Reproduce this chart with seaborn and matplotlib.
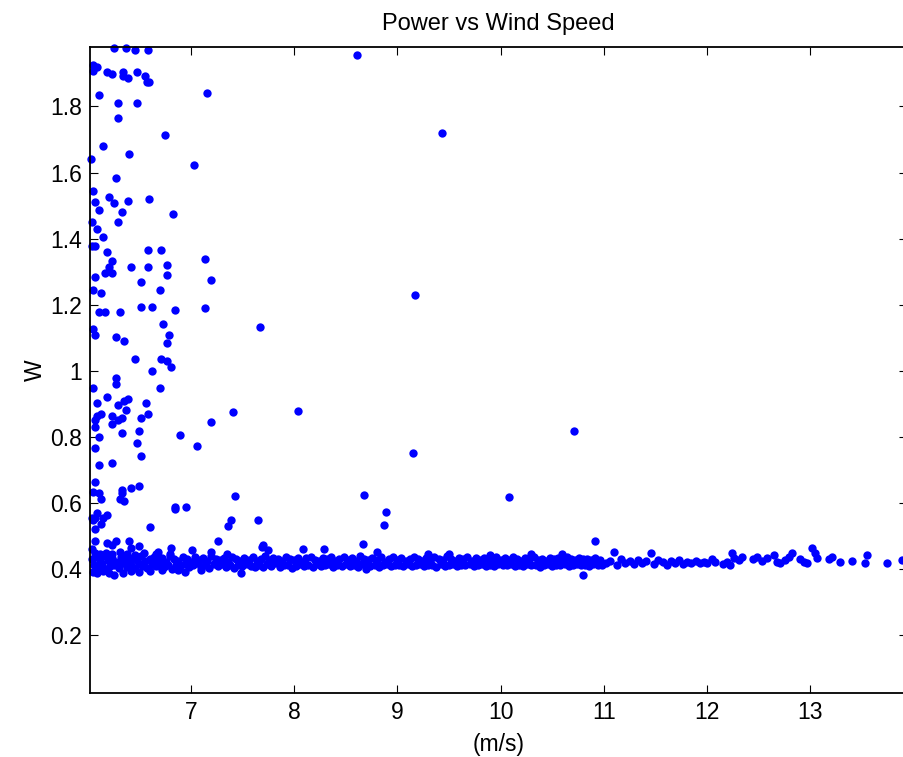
import matplotlib
matplotlib.use("Agg")
import matplotlib.pyplot as plt
import seaborn as sns
import pandas as pd

# scattered points above the main band (wind speed m/s, power W)
outlier_x = [6.257, 6.370, 6.463, 6.589, 6.056, 6.089, 6.056, 6.186, 6.240, 6.347,
             6.347, 6.389, 6.479, 6.554, 6.573, 6.593, 7.155, 6.114, 6.295, 6.479,
             6.295, 6.754, 6.150, 6.405, 6.037, 7.029, 6.279, 6.056, 6.205, 6.075,
             6.259, 6.389, 6.593, 6.114, 6.334, 6.828, 6.295, 6.040, 6.095, 6.150,
             6.040, 6.075, 6.186, 6.589, 6.715, 7.138, 6.240, 6.205, 6.424, 6.589,
             6.773, 6.166, 6.240, 6.075, 6.773, 7.194, 6.515, 6.056, 6.699, 6.131,
             6.515, 6.625, 7.138, 6.845, 6.114, 6.166, 6.315, 6.056, 6.075, 6.734,
             7.668, 6.790, 6.279, 6.351, 6.773, 6.463, 6.715, 6.773, 6.809, 6.625,
             6.279, 6.279, 6.056, 6.699, 6.186, 6.095, 6.295, 6.351, 6.389, 6.570,
             6.370, 6.131, 6.095, 6.075, 6.240, 6.589, 7.413, 6.515, 6.334, 6.295,
             6.240, 7.194, 6.075, 6.499, 6.334, 6.114, 6.899, 6.479, 7.064, 6.075,
             6.515, 6.114, 6.240, 6.075, 6.056, 6.114, 6.131, 6.334, 6.334, 6.315,
             6.351, 6.424, 6.499, 7.429, 6.845, 6.845, 6.954, 6.095, 6.075, 6.056,
             6.186, 6.150, 6.131, 6.075, 6.040, 6.605, 7.358, 7.393, 7.649, 6.075,
             6.186, 6.240, 6.279, 6.405, 6.499, 6.424, 7.264, 7.703, 7.688, 6.809,
             8.611, 9.435, 9.173, 10.714, 9.154, 10.084, 8.679, 8.892, 8.873, 8.670,
             10.917, 8.040]
outlier_y = [1.977, 1.978, 1.971, 1.971, 1.926, 1.920, 1.908, 1.903, 1.897, 1.903,
             1.892, 1.885, 1.903, 1.892, 1.875, 1.875, 1.840, 1.834, 1.811, 1.811,
             1.766, 1.714, 1.680, 1.656, 1.640, 1.623, 1.584, 1.543, 1.527, 1.512,
             1.508, 1.514, 1.520, 1.487, 1.480, 1.475, 1.451, 1.451, 1.428, 1.406,
             1.378, 1.378, 1.360, 1.366, 1.366, 1.338, 1.332, 1.314, 1.314, 1.314,
             1.320, 1.297, 1.297, 1.285, 1.291, 1.275, 1.269, 1.246, 1.246, 1.235,
             1.194, 1.194, 1.190, 1.183, 1.177, 1.177, 1.177, 1.126, 1.109, 1.143,
             1.132, 1.109, 1.104, 1.092, 1.086, 1.035, 1.035, 1.029, 1.013, 1.000,
             0.979, 0.961, 0.949, 0.949, 0.920, 0.903, 0.898, 0.909, 0.914, 0.903,
             0.881, 0.869, 0.864, 0.852, 0.864, 0.869, 0.875, 0.858, 0.858, 0.852,
             0.841, 0.847, 0.830, 0.818, 0.812, 0.800, 0.806, 0.783, 0.772, 0.766,
             0.743, 0.715, 0.721, 0.663, 0.635, 0.630, 0.612, 0.641, 0.630, 0.612,
             0.606, 0.646, 0.652, 0.623, 0.590, 0.584, 0.590, 0.571, 0.555, 0.549,
             0.565, 0.555, 0.537, 0.521, 0.555, 0.527, 0.532, 0.549, 0.549, 0.486,
             0.481, 0.475, 0.486, 0.486, 0.470, 0.464, 0.486, 0.475, 0.469, 0.464,
             1.955, 1.721, 1.230, 0.819, 0.752, 0.619, 0.625, 0.574, 0.534, 0.476,
             0.487, 0.879]

# dense band, upper row
band_a_x = [6.04, 6.08, 6.12, 6.16, 6.20, 6.24, 6.28, 6.32, 6.36, 6.40,
            6.44, 6.48, 6.52, 6.56, 6.60, 6.64, 6.68, 6.72, 6.76, 6.80,
            6.84, 6.88, 6.92, 6.96, 7.00, 7.04, 7.08, 7.12, 7.16, 7.20,
            7.24, 7.28, 7.32, 7.36, 7.40, 7.44, 7.48, 7.52, 7.56, 7.60,
            7.64, 7.68, 7.72, 7.76, 7.80, 7.84, 7.88, 7.92, 7.96, 8.00,
            8.04, 8.08, 8.12, 8.16, 8.20, 8.24, 8.28, 8.32, 8.36, 8.40,
            8.44, 8.48, 8.52, 8.56, 8.60, 8.64, 8.68, 8.72, 8.76, 8.80,
            8.84, 8.88, 8.92, 8.96, 9.00, 9.04, 9.08, 9.12, 9.16, 9.20,
            9.24, 9.28, 9.32, 9.36, 9.40, 9.44, 9.48, 9.52, 9.56, 9.60,
            9.64, 9.68, 9.72, 9.76, 9.80, 9.84, 9.88, 9.92, 9.96, 10.00,
            10.04, 10.08, 10.12, 10.16, 10.20, 10.24, 10.28, 10.32, 10.36, 10.40,
            10.44, 10.48, 10.52, 10.56, 10.60, 10.64, 10.68, 10.72, 10.76, 10.80,
            10.84, 10.88, 10.92, 10.96]
band_a_y = [0.430, 0.436, 0.425, 0.441, 0.428, 0.433, 0.422, 0.438, 0.431, 0.426,
            0.435, 0.429, 0.440, 0.424, 0.432, 0.437, 0.427, 0.434, 0.421, 0.439,
            0.430, 0.426, 0.436, 0.431, 0.423, 0.437, 0.429, 0.434, 0.425, 0.440,
            0.432, 0.428, 0.435, 0.422, 0.438, 0.430, 0.426, 0.433, 0.429, 0.436,
            0.424, 0.431, 0.439, 0.427, 0.434, 0.430, 0.425, 0.437, 0.432, 0.428,
            0.435, 0.421, 0.433, 0.438, 0.429, 0.426, 0.434, 0.431, 0.436, 0.424,
            0.430, 0.437, 0.428, 0.433, 0.425, 0.439, 0.431, 0.427, 0.434, 0.429,
            0.436, 0.423, 0.432, 0.438, 0.428, 0.434, 0.426, 0.431, 0.437, 0.430,
            0.425, 0.433, 0.429, 0.436, 0.431, 0.427, 0.440, 0.432, 0.426, 0.434,
            0.430, 0.437, 0.424, 0.433, 0.428, 0.435, 0.431, 0.426, 0.438, 0.429,
            0.433, 0.427, 0.436, 0.430, 0.425, 0.434, 0.431, 0.437, 0.428, 0.432,
            0.426, 0.435, 0.430, 0.433, 0.428, 0.436, 0.431, 0.427, 0.434, 0.430,
            0.432, 0.429, 0.435, 0.428]

# dense band, lower row
band_b_x = [6.06, 6.10, 6.14, 6.18, 6.22, 6.26, 6.30, 6.34, 6.38, 6.42,
            6.46, 6.50, 6.54, 6.58, 6.62, 6.66, 6.70, 6.74, 6.78, 6.82,
            6.86, 6.90, 6.94, 6.98, 7.02, 7.06, 7.10, 7.14, 7.18, 7.22,
            7.26, 7.30, 7.34, 7.38, 7.42, 7.46, 7.50, 7.54, 7.58, 7.62,
            7.66, 7.70, 7.74, 7.78, 7.82, 7.86, 7.90, 7.94, 7.98, 8.02,
            8.06, 8.10, 8.14, 8.18, 8.22, 8.26, 8.30, 8.34, 8.38, 8.42,
            8.46, 8.50, 8.54, 8.58, 8.62, 8.66, 8.70, 8.74, 8.78, 8.82,
            8.86, 8.90, 8.94, 8.98, 9.02, 9.06, 9.10, 9.14, 9.18, 9.22,
            9.26, 9.30, 9.34, 9.38, 9.42, 9.46, 9.50, 9.54, 9.58, 9.62,
            9.66, 9.70, 9.74, 9.78, 9.82, 9.86, 9.90, 9.94, 9.98, 10.02,
            10.06, 10.10, 10.14, 10.18, 10.22, 10.26, 10.30, 10.34, 10.38, 10.42,
            10.46, 10.50, 10.54, 10.58, 10.62, 10.66, 10.70, 10.74, 10.78, 10.82,
            10.86, 10.90, 10.94, 10.98]
band_b_y = [0.412, 0.406, 0.416, 0.401, 0.410, 0.414, 0.404, 0.418, 0.408, 0.413,
            0.405, 0.417, 0.411, 0.403, 0.415, 0.409, 0.419, 0.407, 0.412, 0.402,
            0.414, 0.410, 0.416, 0.406, 0.412, 0.418, 0.408, 0.413, 0.404, 0.415,
            0.410, 0.417, 0.407, 0.412, 0.405, 0.414, 0.409, 0.416, 0.411, 0.406,
            0.413, 0.408, 0.415, 0.410, 0.418, 0.407, 0.412, 0.414, 0.405, 0.411,
            0.416, 0.409, 0.413, 0.406, 0.415, 0.410, 0.412, 0.417, 0.408, 0.414,
            0.411, 0.415, 0.409, 0.413, 0.407, 0.416, 0.412, 0.410, 0.414, 0.408,
            0.413, 0.416, 0.410, 0.412, 0.414, 0.409, 0.415, 0.411, 0.413, 0.417,
            0.410, 0.414, 0.412, 0.408, 0.415, 0.411, 0.413, 0.416, 0.409, 0.414,
            0.412, 0.415, 0.410, 0.413, 0.417, 0.411, 0.414, 0.409, 0.415, 0.412,
            0.413, 0.416, 0.411, 0.414, 0.410, 0.415, 0.412, 0.414, 0.408, 0.413,
            0.416, 0.411, 0.414, 0.412, 0.415, 0.410, 0.413, 0.416, 0.412, 0.414,
            0.411, 0.415, 0.413, 0.412]

# edge points of the band (bumps above / below)
edge_x = [6.05, 6.07, 6.09, 6.12, 6.15, 6.18, 6.21, 6.24, 6.26, 6.31,
          6.34, 6.38, 6.42, 6.46, 6.50, 6.55, 6.60, 6.66, 6.68, 6.72,
          6.80, 6.88, 6.94, 7.01, 7.10, 7.20, 7.35, 7.49, 7.75, 8.09,
          8.29, 8.70, 8.80, 9.30, 9.50, 9.90, 10.30, 10.60, 10.80, 6.040]
edge_y = [0.392, 0.448, 0.388, 0.445, 0.395, 0.450, 0.390, 0.446, 0.383, 0.452,
          0.389, 0.447, 0.396, 0.444, 0.391, 0.449, 0.394, 0.446, 0.454, 0.398,
          0.447, 0.397, 0.393, 0.459, 0.399, 0.454, 0.447, 0.389, 0.459, 0.461,
          0.461, 0.402, 0.454, 0.446, 0.447, 0.444, 0.447, 0.445, 0.383, 0.461]

# thinner tail of the band above 11 m/s
tail_x = [11.02, 11.06, 11.10, 11.13, 11.17, 11.21, 11.25, 11.29, 11.33, 11.37,
          11.41, 11.46, 11.49, 11.53, 11.57, 11.61, 11.65, 11.69, 11.73, 11.77,
          11.81, 11.85, 11.89, 11.93, 11.97, 12.00, 12.05, 12.08, 12.16, 12.19,
          12.22, 12.24, 12.26, 12.31, 12.34, 12.45, 12.48, 12.53, 12.58, 12.65,
          12.68, 12.71, 12.76, 12.79, 12.82, 12.90, 12.94, 12.97, 13.02, 13.05,
          13.07, 13.18, 13.21, 13.29, 13.40, 13.53, 13.55, 13.74, 13.89]
tail_y = [0.418, 0.426, 0.453, 0.412, 0.430, 0.420, 0.425, 0.415, 0.428, 0.419,
          0.424, 0.450, 0.416, 0.427, 0.421, 0.413, 0.425, 0.419, 0.428, 0.416,
          0.423, 0.420, 0.426, 0.418, 0.423, 0.418, 0.431, 0.423, 0.415, 0.423,
          0.413, 0.449, 0.434, 0.428, 0.437, 0.431, 0.438, 0.426, 0.434, 0.444,
          0.423, 0.418, 0.428, 0.438, 0.449, 0.431, 0.423, 0.418, 0.464, 0.449,
          0.434, 0.431, 0.438, 0.423, 0.426, 0.418, 0.444, 0.418, 0.428]

x_ticks = [7, 8, 9, 10, 11, 12, 13]
y_ticks = [0.2, 0.4, 0.6, 0.8, 1.0, 1.2, 1.4, 1.6, 1.8]
y_tick_labels = ["0.2", "0.4", "0.6", "0.8", "1", "1.2", "1.4", "1.6", "1.8"]

df = pd.DataFrame({
    "speed": outlier_x + band_a_x + band_b_x + edge_x + tail_x,
    "power": outlier_y + band_a_y + band_b_y + edge_y + tail_y,
})

sns.set_style("ticks")
plt.rcParams['font.family'] = ['Liberation Sans', 'DejaVu Sans']
plt.rcParams['text.color'] = 'black'
plt.rcParams['axes.labelcolor'] = 'black'

fig = plt.figure(figsize=(9.04, 7.57), dpi=100)
ax = fig.add_axes([0.0996, 0.0845, 0.9040, 0.854])

sns.scatterplot(data=df, x="speed", y="power", ax=ax, color="#0000ff",
                s=36, linewidth=0, clip_on=False, legend=False)

ax.set_xlim(6.024, 13.94)
ax.set_ylim(0.026, 1.981)
ax.set_xticks(x_ticks)
ax.set_xticklabels([str(t) for t in x_ticks])
ax.set_yticks(y_ticks)
ax.set_yticklabels(y_tick_labels)

for side in ["top", "right", "left", "bottom"]:
    ax.spines[side].set_visible(True)
    ax.spines[side].set_linewidth(1.3)
    ax.spines[side].set_color("black")

ax.tick_params(direction="in", length=6, width=0.8, top=True, right=True,
               labelsize=16.5, pad=6, colors="black")

ax.set_title("Power vs Wind Speed", fontsize=17, pad=12, color="black")
ax.set_xlabel("(m/s)", fontsize=16.5, labelpad=6)
ax.set_ylabel("W", fontsize=16.5, labelpad=2)

fig.savefig("out.png", dpi=100)
